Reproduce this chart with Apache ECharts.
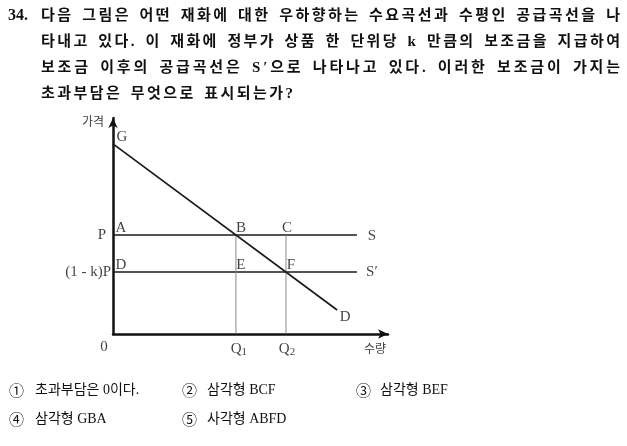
<!DOCTYPE html>
<html>
<head>
<meta charset="utf-8">
<script src="https://cdn.jsdelivr.net/npm/echarts@6/dist/echarts.min.js"></script>
<style>
  html, body { margin: 0; padding: 0; background: #fff; }
  #chart { width: 627px; height: 446px; }
</style>
</head>
<body>
<div id="chart"></div>
<script>
// ---------- data ----------
const questionNumber = "34.";
const questionLines = [
  "다음 그림은 어떤 재화에 대한 우하향하는 수요곡선과 수평인 공급곡선을 나",
  "타내고 있다. 이 재화에 정부가 상품 한 단위당 k 만큼의 보조금을 지급하여",
  "보조금 이후의 공급곡선은 S′으로 나타나고 있다. 이러한 보조금이 가지는",
  "초과부담은 무엇으로 표시되는가?"
];
const choiceMarks = ["①", "②", "③", "④", "⑤"];
const choiceTexts = ["초과부담은 0이다.", "삼각형 BCF", "삼각형 BEF", "삼각형 GBA", "사각형 ABFD"];

const yAxisName = "가격";
const xAxisName = "수량";
const demandCurve = [[0, 8.80], [8.15, 1.11]];   // G ... D
const priceP = 4.58;          // P
const priceSubsidy = 2.87;    // (1 - k)P
const quantityQ1 = 4.47;
const quantityQ2 = 6.29;
const supplyLineEnd = 8.87;

const pointNames = ["G", "A", "B", "C", "D", "E", "F", "S", "S′", "D", "P", "(1 - k)P", "0", "Q1", "Q2"];
const pointCoords = [
  [0, 8.80], [0, priceP], [quantityQ1, priceP], [quantityQ2, priceP],
  [0, priceSubsidy], [quantityQ1, priceSubsidy], [quantityQ2, priceSubsidy],
  [supplyLineEnd, priceP], [supplyLineEnd, priceSubsidy], [8.15, 1.11],
  [0, priceP], [0, priceSubsidy], [0, 0], [quantityQ1, 0], [quantityQ2, 0]
];

// ---------- styles / layout ----------
const FAMILY = "'Liberation Serif','Noto Sans CJK KR',serif";
const labelOffsets = [
  [9, -7], [8, -7], [5, -7], [1, -7], [8, -7], [5, -7], [5, -7],
  [15, 1], [15, 0], [8, 7], [-11, 0], null, [-9, 13], [3, 15], [1, 15]
];

const measureCtx = document.createElement('canvas').getContext('2d');
function justifiedChars(text, x0, x1, y, font) {
  measureCtx.font = font;
  const chars = Array.from(text);
  const widths = chars.map(c => measureCtx.measureText(c).width);
  const natural = widths.reduce((a, b) => a + b, 0);
  const weights = chars.map((c, i) => i === chars.length - 1 ? 0 : (c === ' ' ? 2 : 1));
  const totalW = weights.reduce((a, b) => a + b, 0);
  const unit = totalW ? ((x1 - x0) - natural) / totalW : 0;
  const els = [];
  let x = x0;
  chars.forEach((c, i) => {
    if (c !== ' ') {
      els.push({ type: 'text', x: x, y: y, silent: true,
        style: { text: c, font: font, fill: '#111', align: 'left', verticalAlign: 'middle' } });
    }
    x += widths[i] + weights[i] * unit;
  });
  return els;
}

const headerFont = "bold 15px " + FAMILY;
const lineY = [16, 42, 68, 94];
const lineEnds = [620, 620, 620, 293];
let graphics = [];
graphics.push({ type: 'text', x: 8, y: lineY[0], silent: true,
  style: { text: questionNumber, font: "bold 16px " + FAMILY, fill: '#111', align: 'left', verticalAlign: 'middle' } });
questionLines.forEach((ln, i) => {
  graphics = graphics.concat(justifiedChars(ln, 41, lineEnds[i], lineY[i], headerFont));
});

const choiceFont = "14px " + FAMILY;
const choicePos = [[9, 35, 390], [182, 207, 390], [356, 380, 390], [9, 35, 419], [182, 207, 419]];
choiceMarks.forEach((m, i) => {
  const p = choicePos[i];
  graphics.push({ type: 'text', x: p[0], y: p[2], silent: true,
    style: { text: m, font: "15px 'Noto Sans CJK KR'", fill: '#111', align: 'left', verticalAlign: 'middle' } });
  graphics.push({ type: 'text', x: p[1], y: p[2], silent: true,
    style: { text: choiceTexts[i], font: choiceFont, fill: '#111', align: 'left', verticalAlign: 'middle' } });
});

const lineColor = '#1a1a1a';
function seg(data, width, color) {
  return { type: 'line', data: data, symbol: 'none', silent: true, animation: false,
    lineStyle: { width: width, color: color } };
}

const labelData = pointNames.map((n, i) => {
  const off = labelOffsets[i];
  let formatter = n;
  if (n === 'Q1' || n === 'Q2') formatter = '{q|Q}{s|' + n.slice(1) + '}';
  const label = off ? { show: true, position: 'inside', offset: off, formatter: formatter }
                    : { show: true, position: 'left', distance: 2, formatter: formatter };
  return { value: pointCoords[i], label: label };
});

const option = {
  animation: false,
  backgroundColor: '#fff',
  grid: { left: 113, top: 118, width: 275, height: 216 },
  xAxis: {
    type: 'value', min: 0, max: 10,
    name: xAxisName, nameLocation: 'end', nameGap: -13,
    nameTextStyle: { fontFamily: "'Noto Sans CJK KR'", fontSize: 12, color: '#444', align: 'center', verticalAlign: 'top', padding: [8, 0, 0, 0] },
    axisLine: { show: true, symbol: ['none', 'arrow'], symbolSize: [7, 10], symbolOffset: [0, 0],
      lineStyle: { color: '#111', width: 2.5 } },
    axisTick: { show: false }, axisLabel: { show: false }, splitLine: { show: false }
  },
  yAxis: {
    type: 'value', min: 0, max: 10,
    name: yAxisName, nameLocation: 'end', nameGap: -3,
    nameTextStyle: { fontFamily: "'Noto Sans CJK KR'", fontSize: 12, color: '#444', align: 'right', verticalAlign: 'middle', padding: [0, 9, 0, 0] },
    axisLine: { show: true, symbol: ['none', 'arrow'], symbolSize: [7, 10],
      lineStyle: { color: '#111', width: 2.5 } },
    axisTick: { show: false }, axisLabel: { show: false }, splitLine: { show: false }
  },
  series: [
    seg([[0, priceP], [supplyLineEnd, priceP]], 1.6, lineColor),
    seg([[0, priceSubsidy], [supplyLineEnd, priceSubsidy]], 1.6, lineColor),
    seg([[quantityQ1, 0], [quantityQ1, priceP]], 1, '#888'),
    seg([[quantityQ2, 0], [quantityQ2, priceP]], 1, '#888'),
    seg(demandCurve, 1.7, lineColor),
    {
      type: 'scatter', symbolSize: 0, silent: true, animation: false,
      data: labelData,
      label: {
        fontFamily: FAMILY, fontSize: 15, color: '#111',
        rich: {
          q: { fontFamily: FAMILY, fontSize: 15, color: '#111' },
          s: { fontFamily: FAMILY, fontSize: 11, color: '#111', padding: [6, 0, 0, 0] }
        }
      }
    }
  ],
  graphic: graphics
};

const chart = echarts.init(document.getElementById('chart'), null, { renderer: 'canvas' });
chart.setOption(option);
</script>
</body>
</html>
